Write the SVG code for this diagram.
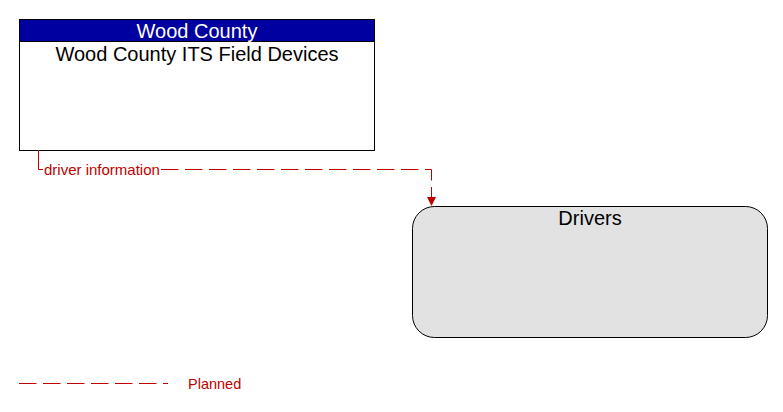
<svg xmlns="http://www.w3.org/2000/svg" width="783" height="412" viewBox="0 0 783 412">
<style>
text{font-family:"Liberation Sans",Arial,sans-serif}
.t{font-size:20px;fill:#000;text-anchor:middle}
.h{font-size:20px;fill:#fff;text-anchor:middle}
.flow{fill:none;stroke:#c00000;stroke-width:1}
.dash{stroke-dasharray:17.5,6.5}
.lbl{font-size:15px;fill:#c00000}
</style>
<defs>
<marker id="ah" markerWidth="10" markerHeight="9" refX="9" refY="4.5" orient="auto" markerUnits="userSpaceOnUse">
<path d="M0,0 L9,4.5 L0,9 Z" fill="#c00000"/>
</marker>
</defs>
<rect width="783" height="412" fill="#fff"/>
<g id="wood-county-its-field-devices">
<rect x="19.5" y="19.5" width="355" height="131" fill="#fff" stroke="#000"/>
<rect x="19.5" y="19.5" width="355" height="22" fill="#0000a0" stroke="#000"/>
<text class="h" x="197" y="37.5">Wood County</text>
<text class="t" x="197" y="60.5">Wood County ITS Field Devices</text>
</g>
<g id="drivers">
<rect x="412.5" y="206.5" width="355" height="131" rx="22" ry="22" fill="#e2e2e2" stroke="#000"/>
<text class="t" x="590" y="224.5">Drivers</text>
</g>
<g id="connectors">
<path class="flow" d="M38.5,150 V169.5 H43"/>
<path class="flow dash" d="M161,169.5 H431.5 V206" marker-end="url(#ah)"/>
<text class="lbl" x="44" y="174.5">driver information</text>
</g>
<g id="legend">
<line class="flow dash" x1="19" y1="383.5" x2="168" y2="383.5"/>
<text class="lbl" x="188" y="388.5" style="font-size:14.5px">Planned</text>
</g>
</svg>
